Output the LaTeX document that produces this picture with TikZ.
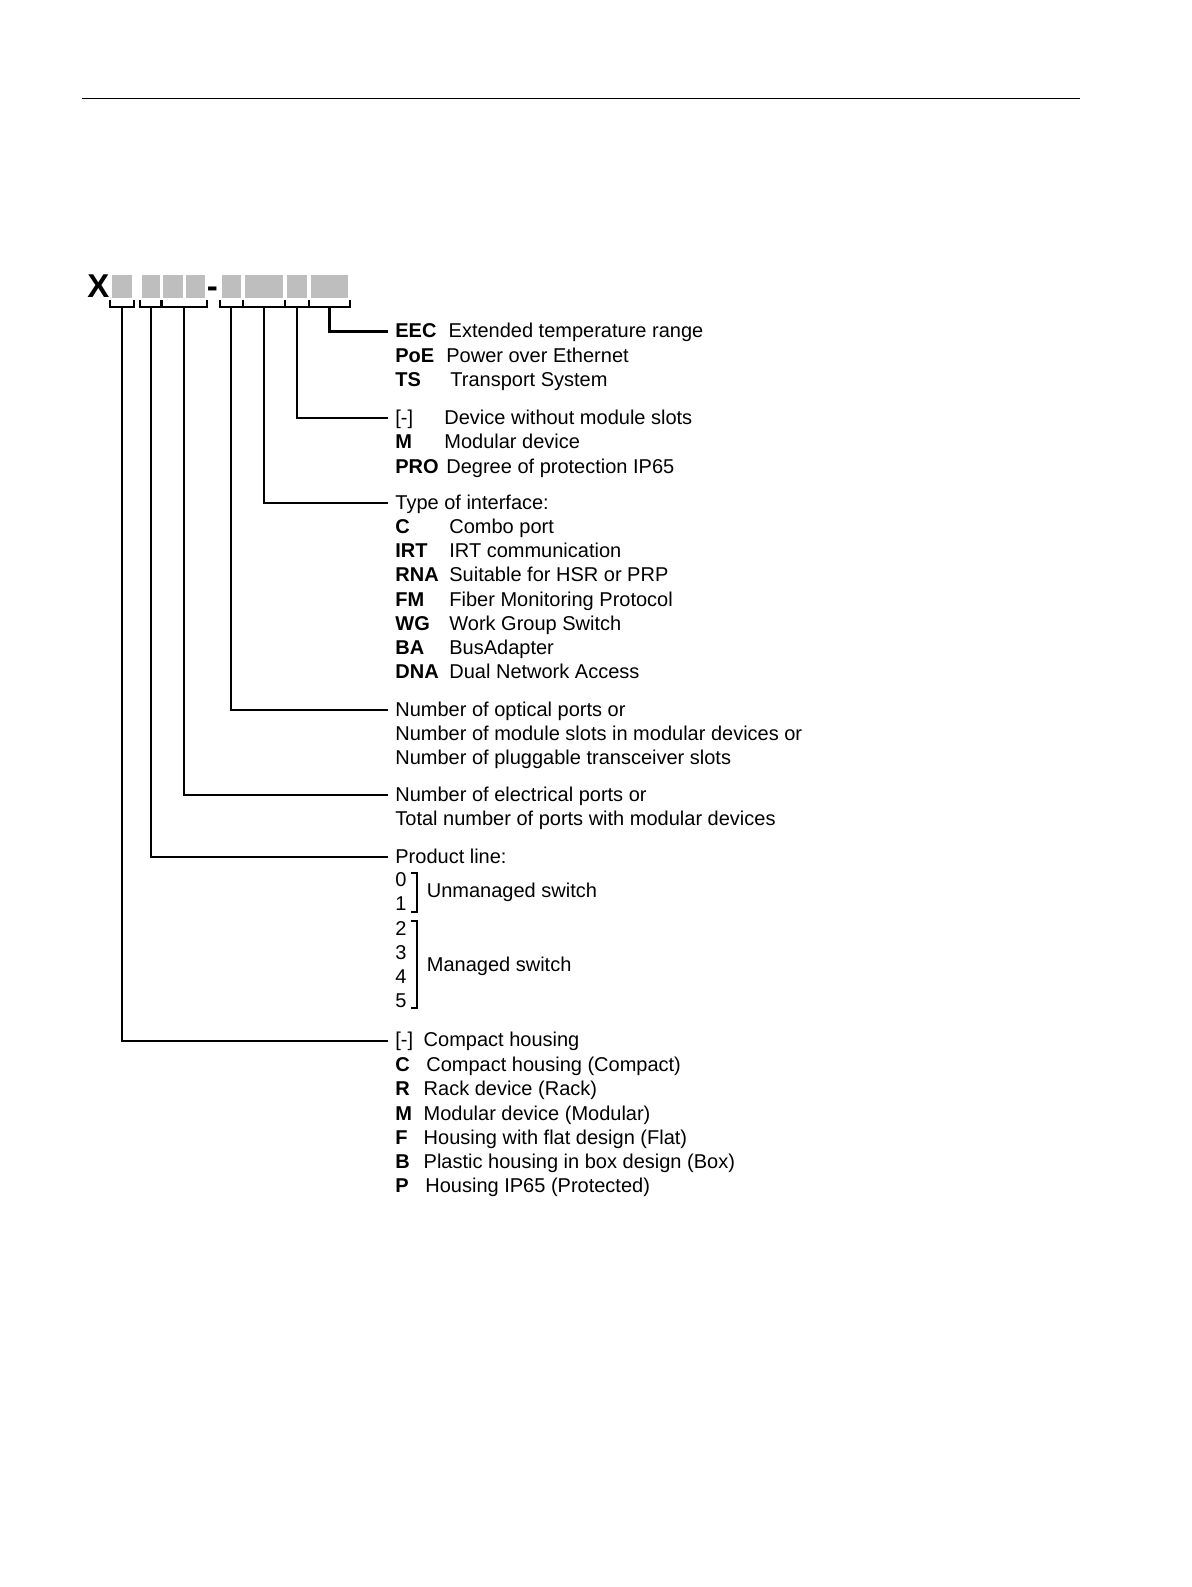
\documentclass[tikz,border=0pt]{standalone}
\usepackage{fontspec}
\setmainfont{Liberation Sans}
\usetikzlibrary{calc}
\definecolor{slotgray}{RGB}{190,190,190}
\tikzset{
  slot/.style={fill=slotgray, draw=none, inner sep=0pt, minimum height=11.65pt},
  brace/.style={line width=1pt},
  conn/.style={line width=1.1pt},
  txt/.style={anchor=base west, inner sep=0pt, font=\fontsize{10}{12}\selectfont},
  key/.style={txt, font=\fontsize{10}{12}\selectfont\bfseries},
  big/.style={anchor=base west, inner sep=0pt, font=\fontsize{16.5}{18}\selectfont\bfseries},
}

\begin{document}
\begin{tikzpicture}[x=0.5pt, y=-0.5pt]
    \useasboundingbox (0,0) rectangle (1191,1587);
    \draw[line width=0.7pt] (81.7,98.3) -- (1080,98.3);

    % order number
    \node[big] (x) at (87,297) {X};
    \node[slot, minimum width=10pt] (s1) at (121.7,286.7) {};
    \node[slot, minimum width=9.2pt] (s2) at (150.8,286.7) {};
    \node[slot, minimum width=10pt] (s3) at (173.3,286.7) {};
    \node[slot, minimum width=9.5pt] (s4) at (195.5,286.7) {};
    \node[big] (dash) at (206.5,297) {-};
    \node[slot, minimum width=9.5pt] (s5) at (231.2,286.7) {};
    \node[slot, minimum width=19.2pt] (s6) at (264.2,286.7) {};
    \node[slot, minimum width=9.7pt] (s7) at (297,286.7) {};
    \node[slot, minimum width=18.8pt] (s8) at (329.5,286.7) {};

    \foreach \a/\b/\n in {s1/s1/1, s2/s2/2, s3/s4/3, s5/s5/4, s6/s6/5, s7/s7/6, s8/s8/7} {
      \coordinate (l\n) at ([shift={(-0.75pt,-3.9pt)}]\a.south west);
      \coordinate (r\n) at ([shift={(0.75pt,-3.9pt)}]\b.south east);
      \draw[brace] ([yshift=3.5pt]l\n) -- (l\n) -- (r\n) -- ([yshift=3.5pt]r\n);
      \coordinate (t\n) at ($(l\n)!0.5!(r\n)$);
    }

    % options
    \node[key] (eec) at (395,337.5) {EEC};
    \node[txt] (eecd) at (448.3,337.5) {Extended temperature range};
    \node[key] (poe) at (395,362) {PoE};
    \node[txt] (poed) at (446,362) {Power over Ethernet};
    \node[key] (ts) at (395,386.5) {TS};
    \node[txt] (tsd) at (450,386.5) {Transport System};

    % module slots
    \node[txt] (nomod) at (395,424) {[-]};
    \node[txt] (nomodd) at (444,424) {Device without module slots};
    \node[key] (mod) at (395,448.5) {M};
    \node[txt] (modd) at (444,448.5) {Modular device};
    \node[key] (pro) at (395,473) {PRO};
    \node[txt] (prod) at (446,473) {Degree of protection IP65};

    % interface
    \node[txt] (iface) at (395,509) {Type of interface:};
    \node[key] (combo) at (395,533.5) {C};
    \node[txt] (combod) at (449,533.5) {Combo port};
    \node[key] (irt) at (395,557.5) {IRT};
    \node[txt] (irtd) at (449,557.5) {IRT communication};
    \node[key] (rna) at (395,581.7) {RNA};
    \node[txt] (rnad) at (449,581.7) {Suitable for HSR or PRP};
    \node[key] (fm) at (395,606) {FM};
    \node[txt] (fmd) at (449,606) {Fiber Monitoring Protocol};
    \node[key] (wg) at (395,630) {WG};
    \node[txt] (wgd) at (449,630) {Work Group Switch};
    \node[key] (ba) at (395,654) {BA};
    \node[txt] (bad) at (449,654) {BusAdapter};
    \node[key] (dna) at (395,678) {DNA};
    \node[txt] (dnad) at (449,678) {Dual Network Access};

    % ports
    \node[txt] (opt) at (395,716) {Number of optical ports or};
    \node[txt] (opt2) at (395,740.3) {Number of module slots in modular devices or};
    \node[txt] (opt3) at (395,764.6) {Number of pluggable transceiver slots};
    \node[txt] (elec) at (395,801) {Number of electrical ports or};
    \node[txt] (elec2) at (395,825.3) {Total number of ports with modular devices};

    % product line
    \node[txt] (pline) at (395,863) {Product line:};
    \node[txt] (d0) at (395,886) {0};
    \node[txt] (d1) at (395,910.5) {1};
    \node[txt] (d2) at (395,935) {2};
    \node[txt] (d3) at (395,959) {3};
    \node[txt] (d4) at (395,983.3) {4};
    \node[txt] (d5) at (395,1007.5) {5};
    \draw[conn] (411,873.3) -- (416.7,873.3) -- (416.7,911.7) -- (411,911.7);
    \draw[conn] (411,920.7) -- (416.7,920.7) -- (416.7,1008.3) -- (411,1008.3);
    \node[txt] (unman) at (426.5,897.3) {Unmanaged switch};
    \node[txt] (man) at (426.5,971) {Managed switch};

    % housing
    \node[txt] (hous) at (395,1046.7) {[-]};
    \node[txt] (housd) at (423.3,1046.7) {Compact housing};
    \node[key] (hc) at (395,1071.5) {C};
    \node[txt] (hcd) at (426,1071.5) {Compact housing (Compact)};
    \node[key] (hr) at (395,1095.7) {R};
    \node[txt] (hrd) at (423.3,1095.7) {Rack device (Rack)};
    \node[key] (hm) at (395,1120) {M};
    \node[txt] (hmd) at (423.3,1120) {Modular device (Modular)};
    \node[key] (hf) at (395,1144) {F};
    \node[txt] (hfd) at (423.3,1144) {Housing with flat design (Flat)};
    \node[key] (hb) at (395,1168) {B};
    \node[txt] (hbd) at (423.3,1168) {Plastic housing in box design (Box)};
    \node[key] (hp) at (395,1192) {P};
    \node[txt] (hpd) at (425,1192) {Housing IP65 (Protected)};

    % connectors
    \draw[conn] (t7) |- ([shift={(-3.5pt,3pt)}]eec.base west);
    \draw[conn] (t6) |- ([shift={(-3.5pt,3pt)}]nomod.base west);
    \draw[conn] (t5) |- ([shift={(-3.5pt,3pt)}]iface.base west);
    \draw[conn] (t4) |- ([shift={(-3.5pt,3pt)}]opt.base west);
    \draw[conn] (t3) |- ([shift={(-3.5pt,3pt)}]elec.base west);
    \draw[conn] (t2) |- ([shift={(-3.5pt,3pt)}]pline.base west);
    \draw[conn] (t1) |- ([shift={(-3.5pt,3pt)}]hous.base west);
\end{tikzpicture}
\end{document}
